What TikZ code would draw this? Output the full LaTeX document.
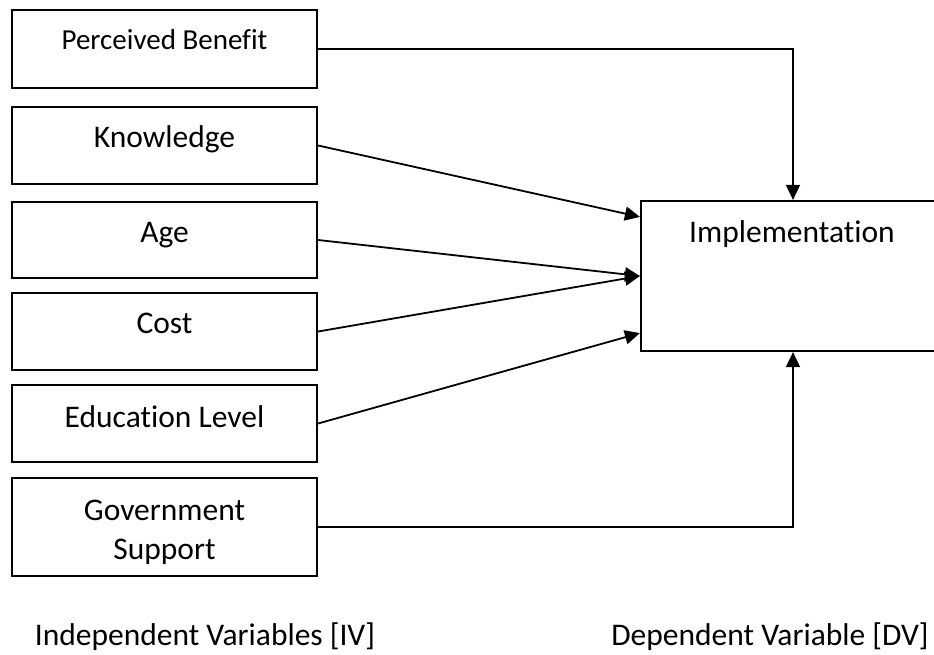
\documentclass[tikz,border=0pt]{standalone}
\usepackage{fontspec}
\setmainfont[Ligatures=NoCommon]{Carlito}
\usetikzlibrary{arrows.meta}
\begin{document}
\begin{tikzpicture}[x=1pt,y=-1pt,
  box/.style={draw=black,line width=2.2pt,rectangle,inner sep=0pt,minimum width=305pt},
  lbl/.style={anchor=base,inner sep=0pt,font=\fontsize{31.5}{39}\selectfont},
  conn/.style={draw=black,line width=1.8pt,-{Triangle[length=15pt,width=14pt]}}]
\useasboundingbox (0,0) rectangle (934,655);
% boxes
\node[box,minimum height=78pt] (pb) at (164.5,49) {};
\node[box,minimum height=77pt] (kn) at (164.5,145.5) {};
\node[box,minimum height=76pt] (age) at (164.5,240) {};
\node[box,minimum height=77pt] (cost) at (164.5,331.5) {};
\node[box,minimum height=77pt] (edu) at (164.5,423.5) {};
\node[box,minimum height=98pt] (gov) at (164.5,527) {};
\node[draw=black,line width=2.2pt,rectangle,inner sep=0pt,minimum width=304pt,minimum height=150pt] (impl) at (793,276) {};
% texts
\node[lbl,font=\fontsize{29}{35}\selectfont] (tpb) at (164.5,50) {Perceived Benefit};
\node[lbl] (tkn) at (164.5,148) {Knowledge};
\node[lbl] (tage) at (164.5,242) {Age};
\node[lbl] (tcost) at (164.5,333) {Cost};
\node[lbl] (tedu) at (164.5,427) {Education Level};
\node[lbl] (tgov1) at (164.5,520) {Government};
\node[lbl] (tgov2) at (164.5,559) {Support};
\node[lbl] (timpl) at (792,242) {Implementation};
\node[lbl] (tiv) at (205,645) {Independent Variables [IV]};
\node[lbl] (tdv) at (770,645) {Dependent Variable [DV]};
% target points on the west side of Implementation
\coordinate (t1) at ([yshift=-17pt]impl.north west);
\coordinate (t4) at ([yshift=19pt]impl.south west);
% connectors
\draw[conn] (pb.east) -| (impl.north);
\draw[conn] (gov.east) -| (impl.south);
\draw[conn] (kn.east) -- (t1);
\draw[conn] (age.east) -- (impl.west);
\draw[conn] (cost.east) -- (impl.west);
\draw[conn] (edu.east) -- (t4);
\end{tikzpicture}
\end{document}
